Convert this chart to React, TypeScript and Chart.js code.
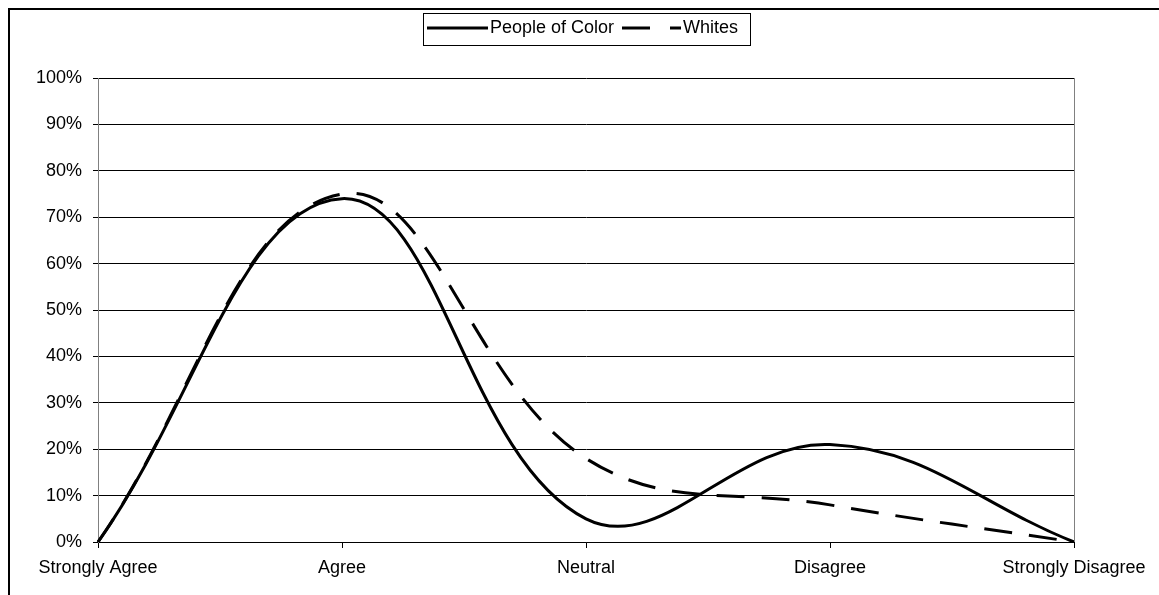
import React, { useEffect, useRef } from "react";
import { Chart, registerables } from "chart.js";

Chart.register(...registerables);

const categories = ["Strongly Agree", "Agree", "Neutral", "Disagree", "Strongly Disagree"];
const peopleOfColor = [0, 74, 5, 21, 0];
const whites = [0, 75, 18, 8, 0];
const yTicks = [0, 10, 20, 30, 40, 50, 60, 70, 80, 90, 100];
const seriesNames = ["People of Color", "Whites"];

const FONT = "'Liberation Sans', Arial, sans-serif";

const decorPlugin = {
  id: "decor",
  afterDraw(chart: any) {
    const ctx = chart.ctx as CanvasRenderingContext2D;
    const area = chart.chartArea;
    ctx.save();
    // outer frame (left & top edges visible)
    ctx.strokeStyle = "#000";
    ctx.lineWidth = 2;
    ctx.beginPath();
    ctx.moveTo(9, 1200);
    ctx.lineTo(9, 9);
    ctx.lineTo(1400, 9);
    ctx.stroke();
    // right plot border
    ctx.strokeStyle = "#808080";
    ctx.lineWidth = 1;
    ctx.beginPath();
    ctx.moveTo(Math.round(area.right) + 0.5, area.top);
    ctx.lineTo(Math.round(area.right) + 0.5, area.bottom);
    ctx.stroke();
    // legend box
    ctx.fillStyle = "#fff";
    ctx.fillRect(423, 13, 328, 32);
    ctx.strokeStyle = "#000";
    ctx.lineWidth = 1;
    ctx.strokeRect(423.5, 13.5, 327, 32);
    const cy = 28;
    ctx.lineWidth = 3;
    ctx.setLineDash([]);
    ctx.beginPath();
    ctx.moveTo(427, cy);
    ctx.lineTo(488, cy);
    ctx.stroke();
    ctx.setLineDash([28, 20]);
    ctx.beginPath();
    ctx.moveTo(622, cy);
    ctx.lineTo(681, cy);
    ctx.stroke();
    ctx.setLineDash([]);
    ctx.fillStyle = "#000";
    ctx.font = `18px ${FONT}`;
    ctx.textBaseline = "middle";
    ctx.textAlign = "left";
    ctx.fillText(seriesNames[0], 490, cy);
    ctx.fillText(seriesNames[1], 683, cy);
    ctx.restore();
  },
};

export default function App() {
  const ref = useRef<HTMLCanvasElement>(null);
  useEffect(() => {
    if (!ref.current) return;
    const chart = new Chart(ref.current, {
      type: "line",
      data: {
        labels: categories,
        datasets: [
          {
            label: seriesNames[0],
            data: peopleOfColor,
            borderColor: "#000",
            backgroundColor: "#000",
            borderWidth: 3,
            pointRadius: 0,
            tension: 0.4,
            fill: false,
          },
          {
            label: seriesNames[1],
            data: whites,
            borderColor: "#000",
            backgroundColor: "#000",
            borderWidth: 3,
            borderDash: [28, 17],
            pointRadius: 0,
            tension: 0.4,
            fill: false,
          },
        ],
      },
      options: {
        animation: false,
        responsive: false,
        events: [],
        layout: { padding: { left: 0, top: 78, right: 85, bottom: 0 } },
        elements: { line: { capBezierPoints: false } },
        plugins: {
          legend: { display: false },
          tooltip: { enabled: false },
          title: { display: false },
        },
        scales: {
          x: {
            type: "category",
            offset: false,
            afterFit: (s: any) => {
              s.height = 53;
            },
            grid: {
              drawOnChartArea: false,
              drawTicks: true,
              tickLength: 6,
              color: "#000",
            },
            border: { color: "#000", width: 1 },
            ticks: {
              color: "#000",
              font: { family: FONT, size: 18 },
              padding: 9,
              maxRotation: 0,
              autoSkip: false,
            },
          },
          y: {
            min: 0,
            max: 100,
            afterFit: (s: any) => {
              s.width = 98;
            },
            afterBuildTicks: (s: any) => {
              s.ticks = yTicks.map((v) => ({ value: v }));
            },
            grid: {
              color: "#000",
              lineWidth: 1,
              tickLength: 5,
            },
            border: { color: "#808080", width: 1 },
            ticks: {
              color: "#000",
              font: { family: FONT, size: 18 },
              padding: 11,
              callback: (v: any) => `${v}%`,
            },
          },
        },
      },
      plugins: [decorPlugin],
    });
    return () => chart.destroy();
  }, []);
  return (
    <div style={{ position: "fixed", left: 0, top: 0, width: 1159, height: 595, overflow: "hidden", background: "#fff" }}>
      <canvas ref={ref} width={1159} height={595} style={{ display: "block", width: 1159, height: 595 }} />
    </div>
  );
}
